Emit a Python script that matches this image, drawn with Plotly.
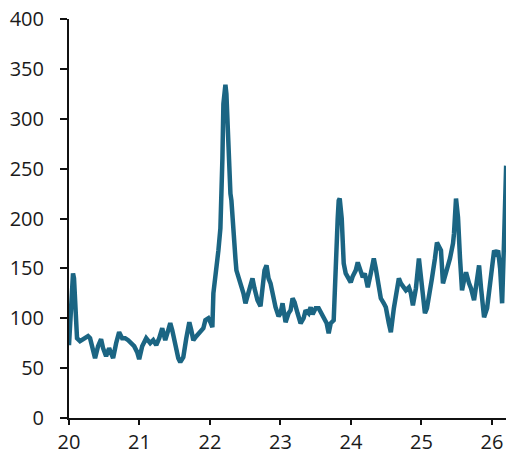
import plotly.graph_objects as go

# pixel-traced x positions converted to decimal years (20 = 2020)
x_px = [69,71,72,73,74,75,77,80,84,88,90,93,95,98,101,103,106,109,111,113,116,119,122,125,128,131,134,137,139,142,146,150,153,156,159,162,165,168,170,172,175,178,180,183,186,189,191,193,196,200,203,205,208,210,212,213,216,218,220,221,222,223,224,225,226,227,228,230,231,233,235,236,238,240,243,245,247,250,252,254,257,260,262,264,266,268,270,272,275,278,280,282,285,288,290,292,294,297,300,303,305,308,310,312,315,318,320,323,326,328,330,333,334,335,337,338,339,341,343,345,347,350,352,355,357,359,362,364,367,370,373,375,378,380,383,385,388,390,393,396,398,400,403,405,408,410,412,415,418,420,422,424,426,428,431,434,436,438,440,442,444,447,449,452,453,455,457,459,461,463,465,468,470,473,475,478,480,483,486,488,490,493,495,497,499,501,503,505]
values = [73,110,135,145,140,110,80,77,80,82,80,68,60,72,79,70,62,70,64,60,75,86,80,80,78,75,72,66,59,72,80,75,78,73,80,90,78,88,95,88,71,60,56,61,80,96,88,78,82,86,90,98,100,96,91,125,148,168,190,215,260,315,330,334,325,300,248,225,218,181,160,148,142,135,125,115,122,130,140,130,118,112,128,148,153,140,135,125,111,102,105,115,96,105,108,120,116,105,95,100,108,105,111,104,110,110,106,101,95,85,95,98,130,158,200,218,220,200,155,145,141,136,142,148,156,150,141,145,131,145,160,150,131,120,115,111,95,86,110,130,140,135,130,128,131,125,113,130,160,140,115,105,110,125,140,160,176,172,168,135,142,155,160,175,185,220,201,160,128,138,146,135,130,118,135,153,130,101,110,128,145,168,165,168,150,115,180,253]
years = [round(20 + (p - 69) / 70.3, 4) for p in x_px]

x_ticks = [20, 21, 22, 23, 24, 25, 26]
y_ticks = [0, 50, 100, 150, 200, 250, 300, 350, 400]

fig = go.Figure(go.Scatter(
    x=years, y=values, mode="lines",
    line=dict(color="#1b6583", width=4.5),
    hoverinfo="skip",
))

font = dict(family="Open Sans", size=20, color="#1a1a1a")
fig.update_layout(
    width=506, height=454,
    margin=dict(l=69, r=0, t=19, b=36),
    plot_bgcolor="white", paper_bgcolor="white",
    showlegend=False,
    font=font,
)
fig.update_xaxes(
    range=[20, 26.2], tickmode="array", tickvals=x_ticks,
    ticktext=[str(t) for t in x_ticks],
    showgrid=False, zeroline=False, automargin=False,
    showline=True, linecolor="#111111", linewidth=2,
    ticks="outside", ticklen=5, tickwidth=2, tickcolor="#111111",
    tickfont=font, ticklabelstandoff=0, ticklabeloverflow="allow",
)
fig.update_yaxes(
    range=[0, 400], tickmode="array", tickvals=y_ticks,
    showgrid=False, zeroline=False, automargin=False,
    showline=True, linecolor="#111111", linewidth=2,
    ticks="outside", ticklen=7, tickwidth=2, tickcolor="#111111",
    tickfont=font, ticklabelstandoff=12, ticklabeloverflow="allow",
)

fig.write_html(
    "out.html",
    config={"displayModeBar": False, "staticPlot": True},
    post_script="document.body.style.margin='0';document.body.style.overflow='hidden';",
)
